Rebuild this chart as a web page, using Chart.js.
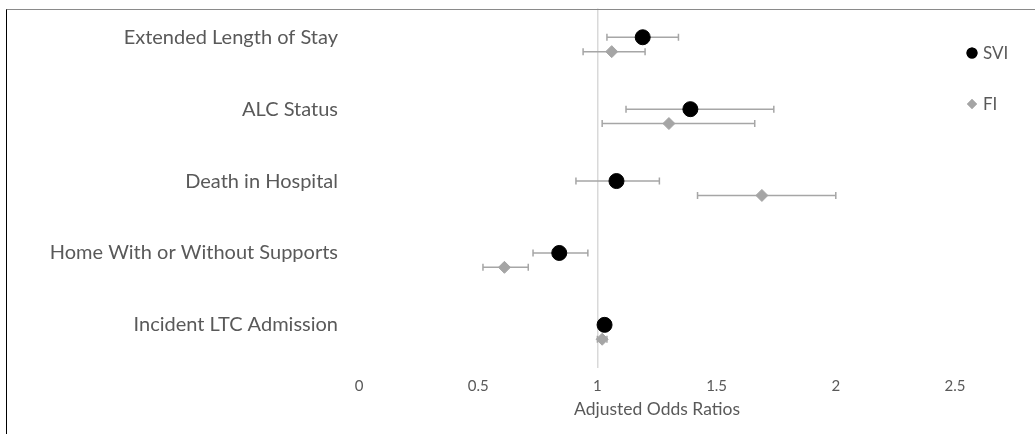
<!DOCTYPE html>
<html>
<head>
<meta charset="utf-8">
<script src="https://cdn.jsdelivr.net/npm/chart.js@4"></script>
<style>
  body { margin: 0; background: #fff; }
  #wrap { position: relative; width: 1035px; height: 434px; }
  #frame { position: absolute; left: 6px; top: 9px; right: 0; bottom: 0;
           border-left: 1.5px solid #000; border-top: 1.5px solid #8a8a8a; pointer-events: none; }
</style>
</head>
<body>
<div id="wrap">
  <canvas id="myChart" width="1035" height="434"></canvas>
  <div id="frame"></div>
</div>
<script>
// outcomes, top to bottom
const outcomes = ['Extended Length of Stay', 'ALC Status', 'Death in Hospital',
                  'Home With or Without Supports', 'Incident LTC Admission'];

// adjusted odds ratios with 95% CI
const sviOR   = [1.19, 1.39, 1.08, 0.84, 1.03];
const sviLow  = [1.04, 1.12, 0.91, 0.73, 1.01];
const sviHigh = [1.34, 1.74, 1.26, 0.96, 1.05];

const fiOR   = [1.06, 1.30, 1.69, 0.61, 1.02];
const fiLow  = [0.94, 1.02, 1.42, 0.52, 1.00];
const fiHigh = [1.20, 1.66, 2.00, 0.71, 1.04];

const xTicks = [0, 0.5, 1, 1.5, 2, 2.5];

// row positions on the y scale (5 = top row); FI sits slightly below SVI
const rowY = outcomes.map((o, i) => outcomes.length - i);
const fiShift = 0.2;

const sviPoints = sviOR.map((v, i) => ({ x: v, y: rowY[i], lo: sviLow[i], hi: sviHigh[i] }));
const fiPoints = fiOR.map((v, i) => ({ x: v, y: rowY[i] - fiShift, lo: fiLow[i], hi: fiHigh[i] }));

const textGrey = '#595959';
const font = 'Lato, "Open Sans", sans-serif';

// whiskers, drawn before the markers
const errorBars = {
    id: 'errorBars',
    beforeDatasetsDraw(chart) {
        const { ctx, scales: { x, y } } = chart;
        ctx.save();
        ctx.strokeStyle = '#a6a6a6';
        ctx.lineWidth = 1.5;
        chart.data.datasets.forEach(ds => {
            ds.data.forEach(p => {
                const py = y.getPixelForValue(p.y);
                const x1 = x.getPixelForValue(p.lo);
                const x2 = x.getPixelForValue(p.hi);
                ctx.beginPath();
                ctx.moveTo(x1, py); ctx.lineTo(x2, py);
                ctx.moveTo(x1, py - 3.5); ctx.lineTo(x1, py + 3.5);
                ctx.moveTo(x2, py - 3.5); ctx.lineTo(x2, py + 3.5);
                ctx.stroke();
            });
        });
        ctx.restore();
    }
};

// legend at the right, spaced like the original
const sideLegend = {
    id: 'sideLegend',
    afterDraw(chart) {
        const { ctx } = chart;
        ctx.save();
        ctx.font = '17px ' + font;
        ctx.textBaseline = 'middle';
        chart.data.datasets.forEach((ds, i) => {
            const cx = 972, cy = 53 + i * 51;
            ctx.fillStyle = ds.backgroundColor;
            Chart.helpers.drawPoint(ctx, {
                pointStyle: ds.pointStyle, radius: i === 0 ? 5.5 : 5, rotation: 0, borderWidth: 0
            }, cx, cy);
            ctx.fill();
            ctx.fillStyle = textGrey;
            ctx.fillText(ds.label, cx + 11, cy + 1);
        });
        ctx.restore();
    }
};

const ctx = document.getElementById('myChart');

const chart = new Chart(ctx, {
    type: 'scatter',
    data: {
        datasets: [{
            label: 'SVI',
            data: sviPoints,
            backgroundColor: '#000000',
            borderColor: '#000000',
            pointStyle: 'circle',
            pointRadius: 7.5
        }, {
            label: 'FI',
            data: fiPoints,
            backgroundColor: '#a5a5a5',
            borderColor: '#a5a5a5',
            pointStyle: 'rectRot',
            pointRadius: 6
        }]
    },
    options: {
        responsive: false,
        animation: false,
        events: [],
        layout: { padding: { left: 48, right: 80, top: 8, bottom: 0 } },
        plugins: {
            legend: { display: false },
            tooltip: { enabled: false }
        },
        scales: {
            x: {
                type: 'linear',
                min: 0,
                max: 2.5,
                afterBuildTicks: s => { s.ticks = xTicks.map(v => ({ value: v })); },
                afterFit: s => { s.height = 66; },
                border: { display: false },
                grid: {
                    drawTicks: false,
                    color: c => (c.tick && c.tick.value === 1) ? '#d9d9d9' : 'rgba(0,0,0,0)',
                    lineWidth: 1.5
                },
                ticks: {
                    padding: 9,
                    color: textGrey,
                    font: { family: font, size: 15 },
                    callback: v => String(v)
                },
                title: {
                    display: true,
                    text: 'Adjusted Odds Ratios',
                    color: textGrey,
                    font: { family: font, size: 17.5 },
                    padding: { top: 0, bottom: 14 }
                }
            },
            y: {
                type: 'linear',
                min: 0.4,
                max: 5.4,
                afterBuildTicks: s => { s.ticks = rowY.map(v => ({ value: v })); },
                afterFit: s => { s.width = 311; s.paddingTop = 0; s.paddingBottom = 0; },
                border: { display: false },
                grid: { display: false },
                ticks: {
                    padding: 13,
                    color: textGrey,
                    font: { family: font, size: 20 },
                    callback: v => outcomes[rowY.indexOf(v)]
                }
            }
        }
    },
    plugins: [errorBars, sideLegend]
});
</script>
</body>
</html>
